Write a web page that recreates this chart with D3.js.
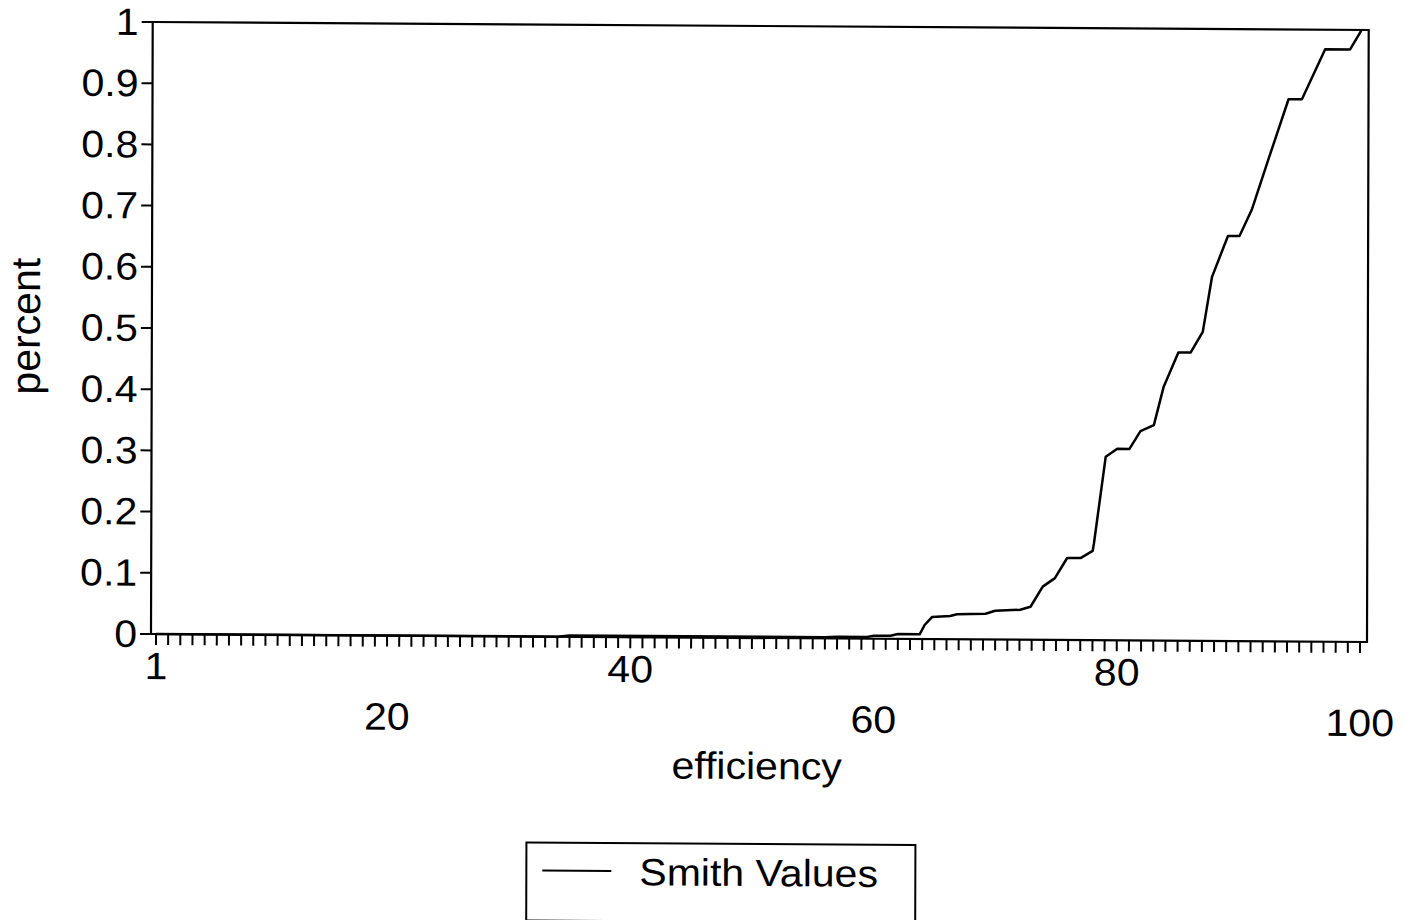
<!DOCTYPE html>
<html>
<head>
<meta charset="utf-8">
<script src="https://cdn.jsdelivr.net/npm/d3@7"></script>
<style>
  html, body { margin: 0; padding: 0; background: #fff; }
  svg { display: block; }
  text { font-family: "Liberation Sans", Arial, Helvetica, sans-serif; fill: #000; }
</style>
</head>
<body>
<svg id="chart" width="1409" height="920"></svg>
<script>
// ---- data ----
const effX = [1, 34, 35, 56, 57, 59.5, 60, 61.4, 62, 63.8,
  64.2, 64.8, 66.3, 66.85, 69.2, 70, 72.05, 72.9, 73.9, 74.9,
  75.9, 77, 78, 78.1, 79.05, 80, 81, 81.9, 83, 83.8,
  85, 86, 87, 87.75, 89.05, 90, 91, 92.35, 94, 95.1,
  97, 99.05, 100];
const pct = [0, 0, 0.002, 0.002, 0.003, 0.003, 0.005, 0.005, 0.008, 0.008,
  0.023, 0.036, 0.038, 0.041, 0.042, 0.047, 0.049, 0.054, 0.087, 0.101,
  0.134, 0.134, 0.146, 0.158, 0.300, 0.313, 0.313, 0.342, 0.352, 0.415,
  0.471, 0.471, 0.505, 0.595, 0.662, 0.662, 0.705, 0.787, 0.886, 0.886,
  0.968, 0.968, 1.0];
const yTicks = [0, 0.1, 0.2, 0.3, 0.4, 0.5, 0.6, 0.7, 0.8, 0.9, 1];
const yTickLabels = ["0", "0.1", "0.2", "0.3", "0.4", "0.5", "0.6", "0.7", "0.8", "0.9", "1"];
const xMinorTicks = d3.range(1, 101);
const xLabelsUpper = [1, 40, 80];
const xLabelsLower = [20, 60, 100];
const xTitle = "efficiency";
const yTitle = "percent";
const seriesName = "Smith Values";

// ---- layout ----
const frame = { left: 151, right: 1367, top: 22, bottom: 634 };
const fs = 38, sx = 1.08;
const skewB = 0.00658, skewC = -0.0028;

const svg = d3.select("#chart");
svg.append("rect").attr("width", 1409).attr("height", 920).attr("fill", "#fff");

const g = svg.append("g")
  .attr("transform", `matrix(1,${skewB},${skewC},1,${-skewC * frame.bottom},${-skewB * frame.left})`);

const x = d3.scaleLinear().domain([1, 100]).range([156, 1360]);
const y = d3.scaleLinear().domain([0, 1]).range([frame.bottom, frame.top]);

function label(txt, px, py, anchor) {
  g.append("text")
    .attr("transform", `translate(${px},${py}) scale(${sx},1)`)
    .attr("text-anchor", anchor)
    .attr("font-size", fs)
    .text(txt);
}

// frame
g.append("rect")
  .attr("x", frame.left).attr("y", frame.top)
  .attr("width", frame.right - frame.left).attr("height", frame.bottom - frame.top)
  .attr("fill", "none").attr("stroke", "#000").attr("stroke-width", 2.2);

// y axis ticks
g.selectAll("line.yt").data(yTicks).enter().append("line")
  .attr("x1", frame.left - 11).attr("x2", frame.left)
  .attr("y1", d => y(d)).attr("y2", d => y(d))
  .attr("stroke", "#000").attr("stroke-width", 2);
yTicks.forEach((d, i) => label(yTickLabels[i], 137, y(d) + 13, "end"));

// x axis minor ticks
g.selectAll("line.xt").data(xMinorTicks).enter().append("line")
  .attr("x1", d => x(d)).attr("x2", d => x(d))
  .attr("y1", frame.bottom).attr("y2", frame.bottom + 11)
  .attr("stroke", "#000").attr("stroke-width", 2);
xLabelsUpper.forEach(d => label(String(d), x(d), 679, "middle"));
xLabelsLower.forEach(d => label(String(d), x(d), 728, "middle"));

// axis titles
label(xTitle, 757, 775, "middle");
g.append("text")
  .attr("transform", `translate(39,327) rotate(-90)`)
  .attr("text-anchor", "middle").attr("font-size", 41)
  .text(yTitle);

// series line
const line = d3.line().x((d, i) => x(effX[i])).y((d, i) => y(pct[i]));
g.append("path").datum(pct)
  .attr("d", line)
  .attr("fill", "none").attr("stroke", "#000").attr("stroke-width", 2.5)
  .attr("stroke-linejoin", "round");

// legend
g.append("rect")
  .attr("x", 527).attr("y", 840).attr("width", 389).attr("height", 78)
  .attr("fill", "none").attr("stroke", "#000").attr("stroke-width", 2);
g.append("line")
  .attr("x1", 543).attr("x2", 612).attr("y1", 868).attr("y2", 868)
  .attr("stroke", "#000").attr("stroke-width", 2);
label(seriesName, 640, 882, "start");
</script>
</body>
</html>
